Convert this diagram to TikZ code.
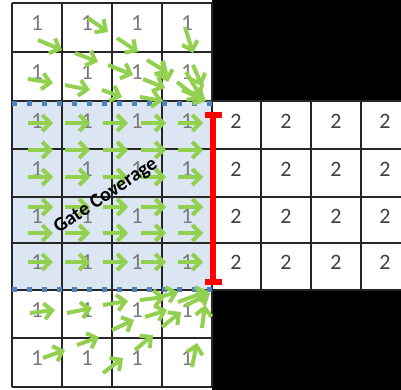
\documentclass[tikz,border=0pt]{standalone}
\usepackage{fontspec}
\setmainfont{Carlito}
\usetikzlibrary{arrows.meta}
\definecolor{garrow}{HTML}{92D050}
\definecolor{gshade}{HTML}{DCE6F2}
\definecolor{gdash}{HTML}{4F81BD}
\tikzset{
  gridline/.style={line width=1.5pt, black!85},
  onedigit/.style={inner sep=0pt, text=black!52, font=\fontsize{23}{23}\selectfont},
  twodigit/.style={inner sep=0pt, text=black!75, font=\fontsize{22}{22}\selectfont},
  garr/.style={draw=garrow, line width=4pt, -{Straight Barb[length=8pt,width=16pt]}},
  gatedash/.style={draw=gdash, line width=5pt, dash pattern=on 5pt off 10pt},
  ibeam/.style={draw=red, line width=5.5pt}
}
\begin{document}
\begin{tikzpicture}[x=1pt,y=-1pt]
\useasboundingbox (0,0) rectangle (401,390);
\fill[white] (0,0) rectangle (401,390);
% black blocks
\fill[black] (212,0) rectangle (401,100);
\fill[black] (212,290) rectangle (401,390);
% gate shading
\fill[gshade] (12,101) rectangle (212,290);
% left grid
\foreach \x in {12,62,112,162,212} \draw[gridline] (\x,3) -- (\x,387);
\foreach \y in {3,52,101,149,197,243,290,338,387} \draw[gridline] (12,\y) -- (212,\y);
% right grid
\foreach \y in {101,149,197,243,290} \draw[gridline] (212,\y) -- (401,\y);
\foreach \x in {261,311,361} \draw[gridline] (\x,101) -- (\x,290);
% digits 1
\foreach \y [count=\j] in {27.5,76.5,125,173,220,266.5,314,362.5}
  \foreach \x [count=\i] in {37,87,137,187}
    \node[onedigit] (one-\j-\i) at (\x,\y-4) {1};
% digits 2
\foreach \y [count=\j] in {125,173,220,266.5}
  \foreach \x [count=\i] in {236,286,336,385}
    \node[twodigit] (two-\j-\i) at (\x,\y-4) {2};
% dashed gate borders
\draw[gatedash] (12,104) -- (212,104);
\draw[gatedash] (12,289) -- (212,289);
% arrows in the gate
\foreach \y in {123,150,177,207,233,262}
  \foreach \x in {28,65,103,141,178}
    \draw[garr] (\x,\y) -- ++(25,0);
% arrows above the gate
\foreach \a/\b/\c/\d in {38/40/62/50, 88/18/108/32, 117/38/138/52, 185/27/193/53,
   75/53/98/62, 28/79/53/83, 65/85/90/90, 108/65/133/75, 147/60/168/73,
   162/62/168/82, 102/90/122/97, 143/79/165/88, 140/97/163/101, 193/65/202/86,
   177/82/200/100, 182/90/206/101, 186/72/201/97}
  \draw[garr] (\a,\b) -- (\c,\d);
% arrows below the gate
\foreach \a/\b/\c/\d in {30/313/55/310, 67/313/92/308, 103/305/128/301, 140/300/165/297,
   145/317/167/310, 162/327/181/312, 178/302/208/291, 185/306/210/293,
   112/330/134/320, 202/328/205/305, 77/345/99/337, 43/358/65/350,
   103/373/123/358, 135/350/153/335, 192/367/197/343, 155/298/178/292}
  \draw[garr] (\a,\b) -- (\c,\d);
% red I-beam
\draw[ibeam] (213,115) -- (213,282);
\draw[ibeam] (205,115) -- (222,115);
\draw[ibeam] (205,282) -- (222,282);
% label
\node[rotate=34, inner sep=0pt, font=\bfseries\fontsize{20}{20}\selectfont] (gate) at (106,196) {Gate Coverage};
\end{tikzpicture}
\end{document}
